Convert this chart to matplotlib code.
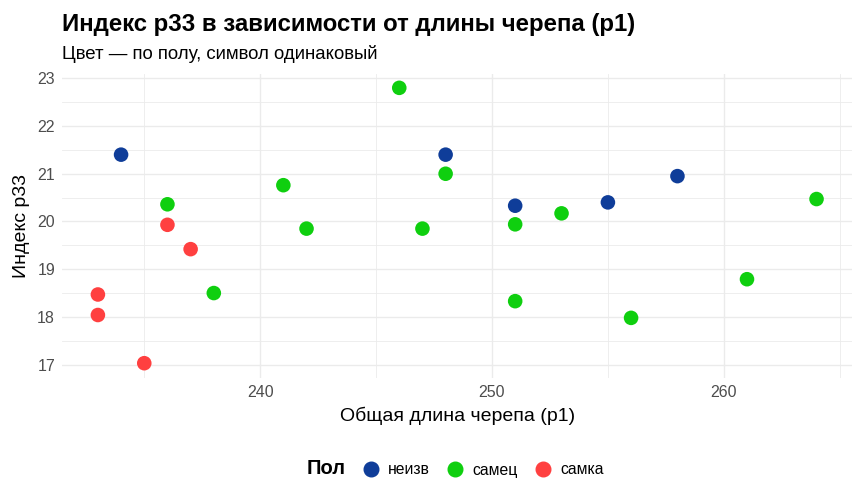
import matplotlib.pyplot as plt
from matplotlib.lines import Line2D

plt.rcParams["font.family"] = ["Liberation Sans", "DejaVu Sans"]

# skull length p1 and index p33, grouped by sex
unk_p1 = [234, 248, 251, 255, 258]
unk_p33 = [21.4, 21.4, 20.33, 20.4, 20.95]

male_p1 = [246, 236, 241, 242, 238, 248, 247, 251, 251, 253, 256, 261, 264]
male_p33 = [22.8, 20.36, 20.76, 19.85, 18.5, 21.0, 19.85, 19.94, 18.33, 20.17, 17.98, 18.79, 20.47]

fem_p1 = [236, 237, 233, 233, 235]
fem_p33 = [19.93, 19.42, 18.47, 18.04, 17.03]

groups = ["неизв", "самец", "самка"]
colors = ["#0f3d99", "#0fcf0f", "#ff4040"]


def main():
    fig = plt.figure(figsize=(8.63, 5.0), dpi=100)
    ax = fig.add_axes([0.0718, 0.244, 0.916, 0.608])

    data = [(unk_p1, unk_p33), (male_p1, male_p33), (fem_p1, fem_p33)]
    for (xs, ys), c in zip(data, colors):
        ax.scatter(xs, ys, s=110, color=c, edgecolors="none", zorder=3)

    ax.set_xlim(231.45, 265.55)
    ax.set_ylim(16.72, 23.09)
    ax.set_xticks([240, 250, 260])
    ax.set_xticks([235, 245, 255, 265], minor=True)
    ax.set_yticks([17, 18, 19, 20, 21, 22, 23])
    ax.set_yticks([17.5, 18.5, 19.5, 20.5, 21.5, 22.5], minor=True)
    ax.grid(which="major", color="#ebebeb", linewidth=1.0)
    ax.grid(which="minor", color="#ebebeb", linewidth=0.6)
    ax.set_axisbelow(True)
    for s in ax.spines.values():
        s.set_visible(False)
    ax.tick_params(which="both", length=0, labelsize=11.5, labelcolor="#4d4d4d")
    ax.tick_params(axis="x", pad=5)
    ax.tick_params(axis="y", pad=5)

    ax.set_xlabel("Общая длина черепа (р1)", fontsize=14, labelpad=5)
    ax.set_ylabel("Индекс р33", fontsize=14, labelpad=5)

    fig.text(0.0718, 0.951, "Индекс р33 в зависимости от длины черепа (р1)",
             fontsize=17.3, fontweight="bold", ha="left", va="center")
    fig.text(0.0718, 0.892, "Цвет — по полу, символ одинаковый",
             fontsize=13.4, ha="left", va="center")

    handles = [Line2D([], [], linestyle="none", marker="", label="Пол")]
    for g, c in zip(groups, colors):
        handles.append(Line2D([], [], linestyle="none", marker="o", markersize=10.5,
                              color=c, label=g))
    leg = fig.legend(handles=handles, loc="center", bbox_to_anchor=(0.513, 0.062),
                     ncol=4, frameon=False, fontsize=11.3, handlelength=1.0,
                     handletextpad=0.6, columnspacing=1.1)
    leg.get_texts()[0].set_fontweight("bold")
    leg.get_texts()[0].set_fontsize(14.5)

    fig.savefig("out.png", dpi=100)


if __name__ == "__main__":
    main()
